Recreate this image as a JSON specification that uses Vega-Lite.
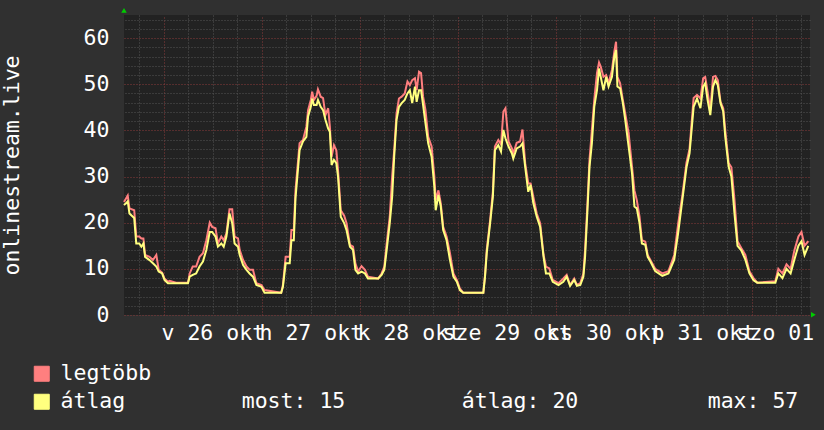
{
  "$schema": "https://vega.github.io/schema/vega-lite/v6.json",
  "width": 686,
  "height": 300,
  "autosize": "none",
  "padding": {"left": 124, "top": 15, "right": 14, "bottom": 115},
  "background": "#303030",
  "config": {
    "view": {"fill": "#222222", "stroke": null},
    "font": "DejaVu Sans Mono",
    "locale": {
      "time": {
        "dateTime": "%Y. %B %-e., %A %X",
        "date": "%Y. %m. %d.",
        "time": "%H:%M:%S",
        "periods": ["de.", "du."],
        "days": ["vasárnap", "hétfő", "kedd", "szerda", "csütörtök", "péntek", "szombat"],
        "shortDays": ["v", "h", "k", "sze", "cs", "p", "szo"],
        "months": ["január", "február", "március", "április", "május", "június", "július", "augusztus", "szeptember", "október", "november", "december"],
        "shortMonths": ["jan", "febr", "márc", "ápr", "máj", "jún", "júl", "aug", "szept", "okt", "nov", "dec"]
      }
    }
  },
  "datasets": {
    "traffic": [
      {"t":"2025-10-25T14:15:00Z","av":23.8,"mx":24.5},
      {"t":"2025-10-25T15:10:00Z","av":24.6,"mx":25.9},
      {"t":"2025-10-25T15:35:00Z","av":22.0,"mx":23.1},
      {"t":"2025-10-25T16:45:00Z","av":21.0,"mx":22.7},
      {"t":"2025-10-25T17:15:00Z","av":15.5,"mx":17.0},
      {"t":"2025-10-25T18:00:00Z","av":15.5,"mx":17.0},
      {"t":"2025-10-25T18:30:00Z","av":14.8,"mx":16.6},
      {"t":"2025-10-25T19:00:00Z","av":15.5,"mx":16.6},
      {"t":"2025-10-25T19:25:00Z","av":12.6,"mx":13.0},
      {"t":"2025-10-25T20:30:00Z","av":11.9,"mx":12.6},
      {"t":"2025-10-25T21:20:00Z","av":11.2,"mx":11.9},
      {"t":"2025-10-25T22:10:00Z","av":10.5,"mx":13.0},
      {"t":"2025-10-25T22:45:00Z","av":9.4,"mx":9.8},
      {"t":"2025-10-25T23:35:00Z","av":9.0,"mx":9.2},
      {"t":"2025-10-26T00:10:00Z","av":7.6,"mx":7.9},
      {"t":"2025-10-26T01:00:00Z","av":6.9,"mx":7.2},
      {"t":"2025-10-26T01:25:00Z","av":6.9,"mx":7.4},
      {"t":"2025-10-26T03:00:00Z","av":6.9,"mx":7.0},
      {"t":"2025-10-26T05:55:00Z","av":6.9,"mx":7.0},
      {"t":"2025-10-26T06:20:00Z","av":8.3,"mx":9.0},
      {"t":"2025-10-26T07:05:00Z","av":8.7,"mx":10.5},
      {"t":"2025-10-26T07:55:00Z","av":9.0,"mx":10.5},
      {"t":"2025-10-26T08:45:00Z","av":10.5,"mx":12.6},
      {"t":"2025-10-26T09:35:00Z","av":11.6,"mx":13.4},
      {"t":"2025-10-26T10:25:00Z","av":14.1,"mx":16.2},
      {"t":"2025-10-26T11:15:00Z","av":18.0,"mx":20.0},
      {"t":"2025-10-26T11:50:00Z","av":18.0,"mx":19.1},
      {"t":"2025-10-26T12:40:00Z","av":17.0,"mx":18.8},
      {"t":"2025-10-26T13:15:00Z","av":14.8,"mx":15.5},
      {"t":"2025-10-26T14:05:00Z","av":15.5,"mx":17.0},
      {"t":"2025-10-26T14:40:00Z","av":14.8,"mx":16.2},
      {"t":"2025-10-26T15:20:00Z","av":17.0,"mx":17.7},
      {"t":"2025-10-26T16:05:00Z","av":22.0,"mx":22.9},
      {"t":"2025-10-26T16:45:00Z","av":19.9,"mx":22.9},
      {"t":"2025-10-26T17:20:00Z","av":15.5,"mx":17.0},
      {"t":"2025-10-26T18:10:00Z","av":14.8,"mx":16.6},
      {"t":"2025-10-26T18:35:00Z","av":13.0,"mx":14.1},
      {"t":"2025-10-26T19:25:00Z","av":10.8,"mx":11.9},
      {"t":"2025-10-26T20:15:00Z","av":9.8,"mx":10.5},
      {"t":"2025-10-26T21:00:00Z","av":9.0,"mx":9.8},
      {"t":"2025-10-26T21:50:00Z","av":8.3,"mx":9.8},
      {"t":"2025-10-26T22:40:00Z","av":6.5,"mx":6.9},
      {"t":"2025-10-26T23:55:00Z","av":6.1,"mx":6.5},
      {"t":"2025-10-27T00:40:00Z","av":4.8,"mx":5.4},
      {"t":"2025-10-27T04:45:00Z","av":4.8,"mx":4.8},
      {"t":"2025-10-27T05:10:00Z","av":6.1,"mx":6.5},
      {"t":"2025-10-27T05:50:00Z","av":11.2,"mx":12.6},
      {"t":"2025-10-27T06:50:00Z","av":11.2,"mx":12.6},
      {"t":"2025-10-27T07:15:00Z","av":16.2,"mx":18.4},
      {"t":"2025-10-27T07:50:00Z","av":16.2,"mx":18.4},
      {"t":"2025-10-27T08:15:00Z","av":25.3,"mx":27.0},
      {"t":"2025-10-27T09:15:00Z","av":35.7,"mx":37.2},
      {"t":"2025-10-27T10:05:00Z","av":37.6,"mx":37.9},
      {"t":"2025-10-27T10:55:00Z","av":38.6,"mx":40.8},
      {"t":"2025-10-27T11:20:00Z","av":43.0,"mx":44.4},
      {"t":"2025-10-27T12:00:00Z","av":45.1,"mx":46.6},
      {"t":"2025-10-27T12:20:00Z","av":46.9,"mx":48.4},
      {"t":"2025-10-27T12:45:00Z","av":45.5,"mx":46.6},
      {"t":"2025-10-27T13:25:00Z","av":45.5,"mx":47.5},
      {"t":"2025-10-27T13:45:00Z","av":46.6,"mx":48.9},
      {"t":"2025-10-27T14:25:00Z","av":45.1,"mx":47.3},
      {"t":"2025-10-27T15:00:00Z","av":44.4,"mx":47.0},
      {"t":"2025-10-27T15:35:00Z","av":42.3,"mx":43.3},
      {"t":"2025-10-27T16:15:00Z","av":40.4,"mx":44.8},
      {"t":"2025-10-27T16:40:00Z","av":39.7,"mx":40.8},
      {"t":"2025-10-27T17:05:00Z","av":32.5,"mx":34.3},
      {"t":"2025-10-27T17:40:00Z","av":33.6,"mx":36.8},
      {"t":"2025-10-27T18:15:00Z","av":32.9,"mx":35.7},
      {"t":"2025-10-27T18:40:00Z","av":30.0,"mx":31.4},
      {"t":"2025-10-27T19:20:00Z","av":21.3,"mx":22.7},
      {"t":"2025-10-27T20:10:00Z","av":19.9,"mx":21.5},
      {"t":"2025-10-27T20:45:00Z","av":18.4,"mx":19.9},
      {"t":"2025-10-27T21:35:00Z","av":14.8,"mx":15.2},
      {"t":"2025-10-27T22:20:00Z","av":14.1,"mx":14.8},
      {"t":"2025-10-27T22:55:00Z","av":9.8,"mx":11.2},
      {"t":"2025-10-27T23:35:00Z","av":9.0,"mx":9.4},
      {"t":"2025-10-28T00:25:00Z","av":9.4,"mx":10.6},
      {"t":"2025-10-28T01:15:00Z","av":9.0,"mx":9.8},
      {"t":"2025-10-28T02:00:00Z","av":7.9,"mx":8.3},
      {"t":"2025-10-28T04:30:00Z","av":7.9,"mx":7.9},
      {"t":"2025-10-28T05:20:00Z","av":8.7,"mx":9.0},
      {"t":"2025-10-28T06:00:00Z","av":9.8,"mx":10.5},
      {"t":"2025-10-28T06:35:00Z","av":14.1,"mx":15.5},
      {"t":"2025-10-28T07:20:00Z","av":19.9,"mx":21.3},
      {"t":"2025-10-28T07:55:00Z","av":25.6,"mx":30.0},
      {"t":"2025-10-28T08:25:00Z","av":34.3,"mx":35.7},
      {"t":"2025-10-28T09:00:00Z","av":42.3,"mx":43.7},
      {"t":"2025-10-28T09:35:00Z","av":45.1,"mx":46.9},
      {"t":"2025-10-28T10:15:00Z","av":45.9,"mx":47.3},
      {"t":"2025-10-28T11:00:00Z","av":46.6,"mx":48.0},
      {"t":"2025-10-28T11:40:00Z","av":48.0,"mx":50.6},
      {"t":"2025-10-28T12:15:00Z","av":48.7,"mx":49.8},
      {"t":"2025-10-28T12:50:00Z","av":45.9,"mx":50.9},
      {"t":"2025-10-28T13:30:00Z","av":49.5,"mx":51.3},
      {"t":"2025-10-28T13:55:00Z","av":46.2,"mx":48.7},
      {"t":"2025-10-28T14:30:00Z","av":48.7,"mx":52.7},
      {"t":"2025-10-28T15:00:00Z","av":48.7,"mx":52.4},
      {"t":"2025-10-28T15:30:00Z","av":45.5,"mx":47.3},
      {"t":"2025-10-28T16:05:00Z","av":41.5,"mx":44.4},
      {"t":"2025-10-28T16:45:00Z","av":37.2,"mx":38.6},
      {"t":"2025-10-28T17:35:00Z","av":34.3,"mx":36.5},
      {"t":"2025-10-28T18:15:00Z","av":27.8,"mx":30.0},
      {"t":"2025-10-28T18:35:00Z","av":22.7,"mx":24.9},
      {"t":"2025-10-28T19:15:00Z","av":26.0,"mx":27.0},
      {"t":"2025-10-28T19:50:00Z","av":23.5,"mx":24.2},
      {"t":"2025-10-28T20:25:00Z","av":18.4,"mx":19.1},
      {"t":"2025-10-28T21:15:00Z","av":16.2,"mx":17.0},
      {"t":"2025-10-28T22:05:00Z","av":11.9,"mx":13.4},
      {"t":"2025-10-28T22:55:00Z","av":8.3,"mx":9.0},
      {"t":"2025-10-28T23:45:00Z","av":7.2,"mx":7.6},
      {"t":"2025-10-29T00:30:00Z","av":5.4,"mx":5.8},
      {"t":"2025-10-29T01:20:00Z","av":4.8,"mx":4.8},
      {"t":"2025-10-29T06:15:00Z","av":4.8,"mx":4.8},
      {"t":"2025-10-29T06:40:00Z","av":8.3,"mx":8.7},
      {"t":"2025-10-29T07:05:00Z","av":13.4,"mx":14.1},
      {"t":"2025-10-29T07:55:00Z","av":19.9,"mx":20.6},
      {"t":"2025-10-29T08:35:00Z","av":25.6,"mx":26.7},
      {"t":"2025-10-29T09:05:00Z","av":35.7,"mx":36.5},
      {"t":"2025-10-29T09:55:00Z","av":36.8,"mx":37.9},
      {"t":"2025-10-29T10:35:00Z","av":35.4,"mx":37.0},
      {"t":"2025-10-29T11:10:00Z","av":40.1,"mx":44.1},
      {"t":"2025-10-29T11:40:00Z","av":38.3,"mx":44.8},
      {"t":"2025-10-29T12:25:00Z","av":36.5,"mx":37.6},
      {"t":"2025-10-29T13:15:00Z","av":35.0,"mx":36.1},
      {"t":"2025-10-29T13:35:00Z","av":33.9,"mx":35.0},
      {"t":"2025-10-29T14:25:00Z","av":36.1,"mx":37.3},
      {"t":"2025-10-29T15:15:00Z","av":36.5,"mx":37.6},
      {"t":"2025-10-29T15:50:00Z","av":37.2,"mx":40.2},
      {"t":"2025-10-29T16:30:00Z","av":32.1,"mx":32.9},
      {"t":"2025-10-29T17:15:00Z","av":26.7,"mx":28.5},
      {"t":"2025-10-29T17:50:00Z","av":28.2,"mx":28.5},
      {"t":"2025-10-29T18:30:00Z","av":24.2,"mx":25.6},
      {"t":"2025-10-29T19:20:00Z","av":21.3,"mx":22.0},
      {"t":"2025-10-29T20:10:00Z","av":19.1,"mx":19.9},
      {"t":"2025-10-29T21:00:00Z","av":12.6,"mx":13.0},
      {"t":"2025-10-29T21:35:00Z","av":9.0,"mx":10.5},
      {"t":"2025-10-29T22:25:00Z","av":9.0,"mx":10.1},
      {"t":"2025-10-29T23:15:00Z","av":7.2,"mx":7.6},
      {"t":"2025-10-30T00:40:00Z","av":6.5,"mx":6.9},
      {"t":"2025-10-30T01:50:00Z","av":7.2,"mx":7.9},
      {"t":"2025-10-30T02:40:00Z","av":8.3,"mx":8.7},
      {"t":"2025-10-30T03:30:00Z","av":6.3,"mx":6.5},
      {"t":"2025-10-30T04:30:00Z","av":7.6,"mx":7.9},
      {"t":"2025-10-30T05:10:00Z","av":6.3,"mx":6.5},
      {"t":"2025-10-30T06:00:00Z","av":6.5,"mx":6.9},
      {"t":"2025-10-30T06:45:00Z","av":8.3,"mx":9.0},
      {"t":"2025-10-30T07:10:00Z","av":12.6,"mx":14.1},
      {"t":"2025-10-30T07:45:00Z","av":22.7,"mx":24.2},
      {"t":"2025-10-30T08:15:00Z","av":32.1,"mx":33.6},
      {"t":"2025-10-30T08:50:00Z","av":37.2,"mx":40.1},
      {"t":"2025-10-30T09:25:00Z","av":45.1,"mx":46.6},
      {"t":"2025-10-30T10:05:00Z","av":48.7,"mx":52.4},
      {"t":"2025-10-30T10:35:00Z","av":53.4,"mx":54.7},
      {"t":"2025-10-30T11:00:00Z","av":51.6,"mx":53.8},
      {"t":"2025-10-30T11:40:00Z","av":48.7,"mx":51.6},
      {"t":"2025-10-30T12:20:00Z","av":51.6,"mx":52.0},
      {"t":"2025-10-30T12:55:00Z","av":49.5,"mx":50.2},
      {"t":"2025-10-30T13:45:00Z","av":51.6,"mx":53.1},
      {"t":"2025-10-30T14:20:00Z","av":56.0,"mx":57.1},
      {"t":"2025-10-30T14:45:00Z","av":57.4,"mx":59.2},
      {"t":"2025-10-30T15:05:00Z","av":49.5,"mx":51.6},
      {"t":"2025-10-30T15:45:00Z","av":49.1,"mx":50.2},
      {"t":"2025-10-30T16:25:00Z","av":45.9,"mx":46.6},
      {"t":"2025-10-30T17:00:00Z","av":42.3,"mx":43.7},
      {"t":"2025-10-30T17:50:00Z","av":36.5,"mx":39.4},
      {"t":"2025-10-30T18:40:00Z","av":30.7,"mx":32.1},
      {"t":"2025-10-30T19:15:00Z","av":23.5,"mx":27.0},
      {"t":"2025-10-30T19:50:00Z","av":23.1,"mx":24.9},
      {"t":"2025-10-30T20:30:00Z","av":19.9,"mx":21.3},
      {"t":"2025-10-30T21:05:00Z","av":15.5,"mx":16.2},
      {"t":"2025-10-30T21:55:00Z","av":15.2,"mx":15.9},
      {"t":"2025-10-30T22:30:00Z","av":12.6,"mx":13.0},
      {"t":"2025-10-30T23:10:00Z","av":11.6,"mx":11.9},
      {"t":"2025-10-31T00:20:00Z","av":9.5,"mx":10.0},
      {"t":"2025-10-31T02:05:00Z","av":8.5,"mx":9.0},
      {"t":"2025-10-31T03:35:00Z","av":9.0,"mx":9.5},
      {"t":"2025-10-31T05:00:00Z","av":12.0,"mx":13.0},
      {"t":"2025-10-31T06:00:00Z","av":18.0,"mx":20.0},
      {"t":"2025-10-31T07:00:00Z","av":25.0,"mx":26.0},
      {"t":"2025-10-31T08:00:00Z","av":32.0,"mx":33.0},
      {"t":"2025-10-31T08:45:00Z","av":35.0,"mx":36.0},
      {"t":"2025-10-31T09:45:00Z","av":45.1,"mx":47.0},
      {"t":"2025-10-31T10:35:00Z","av":46.9,"mx":47.7},
      {"t":"2025-10-31T11:25:00Z","av":44.8,"mx":46.9},
      {"t":"2025-10-31T12:05:00Z","av":49.5,"mx":51.3},
      {"t":"2025-10-31T12:35:00Z","av":50.2,"mx":51.6},
      {"t":"2025-10-31T13:10:00Z","av":46.6,"mx":48.4},
      {"t":"2025-10-31T13:50:00Z","av":43.3,"mx":44.4},
      {"t":"2025-10-31T14:30:00Z","av":49.5,"mx":51.6},
      {"t":"2025-10-31T15:05:00Z","av":50.9,"mx":51.8},
      {"t":"2025-10-31T15:40:00Z","av":49.8,"mx":50.9},
      {"t":"2025-10-31T16:20:00Z","av":45.9,"mx":46.2},
      {"t":"2025-10-31T17:00:00Z","av":44.1,"mx":44.8},
      {"t":"2025-10-31T17:30:00Z","av":38.6,"mx":40.0},
      {"t":"2025-10-31T18:20:00Z","av":32.1,"mx":32.9},
      {"t":"2025-10-31T19:00:00Z","av":30.0,"mx":32.0},
      {"t":"2025-10-31T19:45:00Z","av":22.0,"mx":25.0},
      {"t":"2025-10-31T20:30:00Z","av":15.0,"mx":16.0},
      {"t":"2025-10-31T21:25:00Z","av":14.0,"mx":14.5},
      {"t":"2025-10-31T22:25:00Z","av":12.0,"mx":13.0},
      {"t":"2025-10-31T23:25:00Z","av":9.0,"mx":9.5},
      {"t":"2025-11-01T00:25:00Z","av":7.5,"mx":8.0},
      {"t":"2025-11-01T01:20:00Z","av":7.0,"mx":7.0},
      {"t":"2025-11-01T05:45:00Z","av":7.0,"mx":7.3},
      {"t":"2025-11-01T06:30:00Z","av":9.0,"mx":10.0},
      {"t":"2025-11-01T07:30:00Z","av":8.0,"mx":9.0},
      {"t":"2025-11-01T08:30:00Z","av":10.0,"mx":11.0},
      {"t":"2025-11-01T09:30:00Z","av":9.0,"mx":10.0},
      {"t":"2025-11-01T10:25:00Z","av":12.0,"mx":14.0},
      {"t":"2025-11-01T11:25:00Z","av":15.0,"mx":17.0},
      {"t":"2025-11-01T12:10:00Z","av":16.0,"mx":18.0},
      {"t":"2025-11-01T12:55:00Z","av":13.0,"mx":15.0},
      {"t":"2025-11-01T13:50:00Z","av":15.0,"mx":16.0}
    ],
    "arrows": [
      {"t":"2025-10-25T14:15:00Z","v":66.0,"shape":"triangle-up"},
      {"t":"2025-11-01T15:05:00Z","v":0.05,"shape":"triangle-right"}
    ]
  },
  "resolve": {"axis": {"x": "independent", "y": "independent"}},
  "layer": [
    {
      "data": {"name": "traffic"},
      "mark": {"type": "line", "strokeWidth": 2},
      "encoding": {
        "x": {
          "field": "t",
          "type": "temporal",
          "scale": {"domain": [1761401700000, 1762006500000]},
          "axis": {
            "title": null,
            "orient": "bottom",
            "values": [1761480000000, 1761566400000, 1761652800000, 1761739200000, 1761825600000, 1761912000000, 1761998400000],
            "format": "%a %d %b",
            "grid": true,
            "gridColor": "#555555",
            "gridDash": [1, 2],
            "ticks": false,
            "domain": false,
            "labelFontSize": 21.5,
            "labelColor": "#ffffff",
            "labelBaseline": "alphabetic",
            "labelPadding": 24,
            "labelOverlap": false,
            "labelFlush": false,
            "labelBound": false
          }
        },
        "y": {
          "field": "mx",
          "type": "quantitative",
          "scale": {"domain": [0, 65], "nice": false},
          "axis": {
            "title": "onlinestream.live",
            "orient": "left",
            "values": [0, 10, 20, 30, 40, 50, 60],
            "grid": true,
            "gridColor": "#8a3b3b",
            "gridDash": [1, 2],
            "ticks": false,
            "domain": false,
            "labelFontSize": 21.5,
            "labelColor": "#ffffff",
            "labelPadding": 15,
            "labelOverlap": false,
            "titleFontSize": 21.5,
            "titleFontWeight": "normal",
            "titleColor": "#ffffff",
            "titlePadding": 60
          }
        },
        "color": {
          "datum": "legtöbb",
          "scale": {
            "domain": ["legtöbb", "átlag\u00a0\u00a0\u00a0\u00a0\u00a0\u00a0\u00a0\u00a0\u00a0most: 15\u00a0\u00a0\u00a0\u00a0\u00a0\u00a0\u00a0\u00a0\u00a0átlag: 20\u00a0\u00a0\u00a0\u00a0\u00a0\u00a0\u00a0\u00a0\u00a0\u00a0max: 57"],
            "range": ["#ff7f7f", "#ffff7f"]
          },
          "legend": {
            "orient": "none",
            "legendX": -93,
            "legendY": 348,
            "title": null,
            "padding": 0,
            "labelFontSize": 21.5,
            "labelColor": "#ffffff",
            "labelLimit": 900,
            "labelOffset": 8,
            "rowPadding": 5,
            "symbolType": "square",
            "symbolSize": 225,
            "symbolStrokeColor": "#000000",
            "symbolStrokeWidth": 1,
            "encode": {
              "symbols": {
                "update": {
                  "fill": {"scale": "color", "field": "value"},
                  "fillOpacity": {"value": 1},
                  "stroke": {"value": "#000000"},
                  "strokeWidth": {"value": 1}
                }
              }
            }
          }
        }
      }
    },
    {
      "data": {"name": "traffic"},
      "mark": {"type": "line", "strokeWidth": 2},
      "encoding": {
        "x": {
          "field": "t",
          "type": "temporal",
          "axis": {
            "title": null,
            "orient": "top",
            "values": [1761436800000, 1761523200000, 1761609600000, 1761696000000, 1761782400000, 1761868800000, 1761955200000],
            "grid": true,
            "gridColor": "#8a3b3b",
            "gridDash": [1, 2],
            "labels": false,
            "ticks": false,
            "domain": false
          }
        },
        "y": {
          "field": "av",
          "type": "quantitative",
          "axis": {
            "title": null,
            "orient": "right",
            "values": [2, 4, 6, 8, 12, 14, 16, 18, 22, 24, 26, 28, 32, 34, 36, 38, 42, 44, 46, 48, 52, 54, 56, 58, 62, 64],
            "grid": true,
            "gridColor": "#555555",
            "gridDash": [1, 2],
            "labels": false,
            "ticks": false,
            "domain": false
          }
        },
        "color": {"datum": "átlag\u00a0\u00a0\u00a0\u00a0\u00a0\u00a0\u00a0\u00a0\u00a0most: 15\u00a0\u00a0\u00a0\u00a0\u00a0\u00a0\u00a0\u00a0\u00a0átlag: 20\u00a0\u00a0\u00a0\u00a0\u00a0\u00a0\u00a0\u00a0\u00a0\u00a0max: 57"}
      }
    },
    {
      "data": {"name": "arrows"},
      "mark": {"type": "point", "filled": true, "size": 30, "opacity": 1},
      "encoding": {
        "x": {
          "field": "t",
          "type": "temporal",
          "axis": {
            "title": null,
            "orient": "bottom",
            "values": [1761415200000, 1761458400000, 1761501600000, 1761544800000, 1761588000000, 1761631200000, 1761674400000, 1761717600000, 1761760800000, 1761804000000, 1761847200000, 1761890400000, 1761933600000, 1761976800000],
            "grid": true,
            "gridColor": "#555555",
            "gridDash": [1, 2],
            "labels": false,
            "ticks": false,
            "domain": false
          }
        },
        "y": {"field": "v", "type": "quantitative", "axis": null},
        "shape": {"field": "shape", "type": "nominal", "scale": null},
        "color": {"value": "#00cc00"}
      }
    }
  ]
}
